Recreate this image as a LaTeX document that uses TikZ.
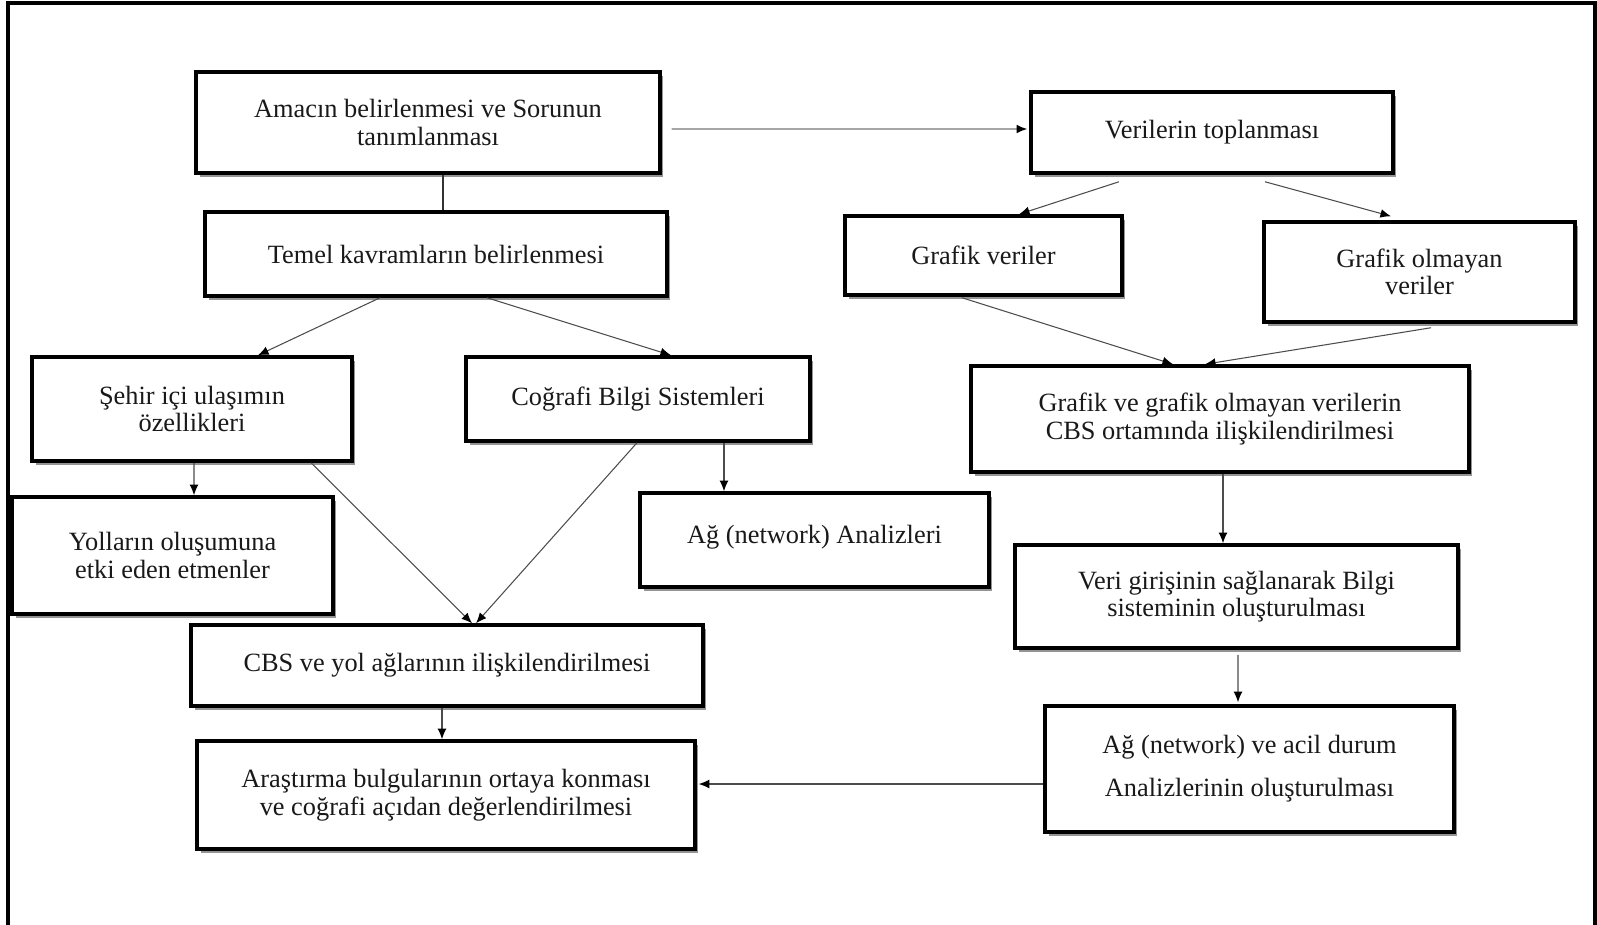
\documentclass[tikz,border=0pt]{standalone}
\usepackage{fontspec}
\setmainfont{Liberation Serif}
\usetikzlibrary{arrows.meta,calc,shadows}
\tikzset{
  kutu/.style={draw=black, line width=2pt, fill=white, align=center, text=black!90,
    font=\fontsize{15}{15.6}\selectfont,
    drop shadow={shadow xshift=2pt, shadow yshift=-2pt, fill=black!60, opacity=.7}},
  ok/.style={draw=black!70, line width=0.6pt, -{Latex[length=6pt,width=5pt,black]}},
  acikok/.style={draw=black!35, line width=1pt, -{Latex[length=6pt,width=5pt,black]}},
  cizgi/.style={draw=black!80, line width=0.8pt}
}
\begin{document}
\begin{tikzpicture}[x=0.02cm, y=-0.02cm]
\useasboundingbox (0,0) rectangle (1597,924);
\draw[line width=2pt] (8,3) rectangle (1595,960);

\node[kutu, minimum width=9.28cm, minimum height=2.02cm] (amac) at (428,122.5) {Amacın belirlenmesi ve Sorunun\\tanımlanması};
\node[kutu, minimum width=7.24cm, minimum height=1.62cm] (ver) at (1212,132.5) {Verilerin toplanması};
\node[kutu, minimum width=9.24cm, minimum height=1.68cm] (temel) at (436,254) {Temel kavramların belirlenmesi};
\node[kutu, minimum width=5.54cm, minimum height=1.58cm] (grv) at (983.5,255.5) {Grafik veriler};
\node[kutu, minimum width=6.22cm, minimum height=2.00cm] (gro) at (1419.5,272) {Grafik olmayan\\veriler};
\node[kutu, minimum width=6.40cm, minimum height=2.08cm] (sehir) at (192,409) {Şehir içi ulaşımın\\özellikleri};
\node[kutu, minimum width=6.88cm, minimum height=1.68cm] (cog) at (638,399) {Coğrafi Bilgi Sistemleri};
\node[kutu, minimum width=9.96cm, minimum height=2.12cm] (ggo) at (1220,419) {Grafik ve grafik olmayan verilerin\\CBS ortamında ilişkilendirilmesi};
\node[kutu, minimum width=6.42cm, minimum height=2.34cm] (yol) at (172.5,555.5) {Yolların oluşumuna\\etki eden etmenler};
\node[kutu, minimum width=6.98cm, minimum height=1.88cm] (agan) at (814.5,540) {\raisebox{7pt}{Ağ (network) Analizleri}};
\node[kutu, minimum width=8.86cm, minimum height=2.06cm] (veri) at (1236.5,596.5) {Veri girişinin sağlanarak Bilgi\\sisteminin oluşturulması};
\node[kutu, minimum width=10.24cm, minimum height=1.62cm] (cbs) at (447,665.5) {CBS ve yol ağlarının ilişkilendirilmesi};
\node[kutu, minimum width=8.18cm, minimum height=2.52cm] (acil) at (1249.5,769) {Ağ (network) ve acil durum\\[9pt]Analizlerinin oluşturulması};
\node[kutu, minimum width=9.96cm, minimum height=2.16cm] (aras) at (446,795) {Araştırma bulgularının ortaya konması\\ve coğrafi açıdan değerlendirilmesi};

\draw[acikok] ($(amac.east)+(10,6.5)$) -- ($(ver.west)+(-2,-3.5)$);
\draw[cizgi] ($(amac.south)+(15,0)$) -- ($(temel.north)+(7,0)$);
\draw[ok] ($(temel.south)+(-56,0)$) -- ($(sehir.north)+(66,0)$);
\draw[ok] ($(temel.south)+(51,0)$) -- ($(cog.north)+(33,0)$);
\draw[ok] ($(sehir.south)+(2,0)$) -- ($(yol.north)+(21.5,0)$);
\draw[ok] ($(sehir.south)+(119,0)$) -- ($(cbs.north)+(25,0)$);
\draw[ok] ($(cog.south)+(-1,0)$) -- ($(cbs.north)+(29,0)$);
\draw[ok] ($(cog.south)+(86,0)$) -- ($(agan.north)+(-90.5,0)$);
\draw[ok] ($(cbs.south)+(-5,0)$) -- ($(aras.north)+(-4,0)$);
\draw[ok] ($(ver.south)+(-93,7)$) -- ($(grv.north)+(35.5,0)$);
\draw[ok] ($(ver.south)+(53,7)$) -- ($(gro.north)+(-28.5,-4)$);
\draw[ok] ($(grv.south)+(-21.5,1)$) -- ($(ggo.north)+(-47,0)$);
\draw[ok] ($(gro.south)+(11.5,4)$) -- ($(ggo.north)+(-15,0)$);
\draw[ok] ($(ggo.south)+(3,0)$) -- ($(veri.north)+(-13.5,0)$);
\draw[ok] ($(veri.south)+(1.5,5)$) -- ($(acil.north)+(-11.5,-2)$);
\draw[ok] ($(acil.west)+(0,15)$) -- ($(aras.east)+(2,-11)$);
\end{tikzpicture}
\end{document}
